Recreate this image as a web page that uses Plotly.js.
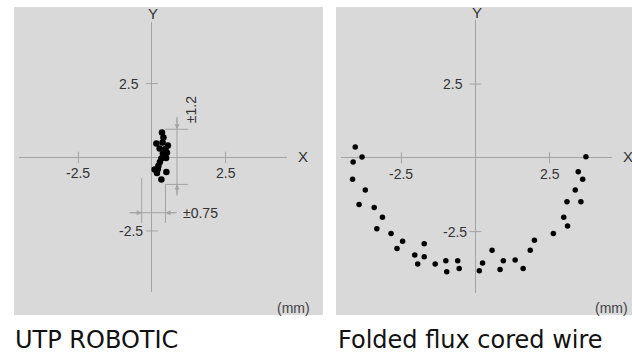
<!DOCTYPE html>
<html>
<head>
<meta charset="utf-8">
<script src="https://cdn.plot.ly/plotly-3.0.1.min.js"></script>
<style>
  html, body { margin: 0; padding: 0; background: #ffffff; }
  #chart { width: 632px; height: 356px; }
</style>
</head>
<body>
<div id="chart"></div>
<script>
// ---- data (mm) ----
const panelTitles = ['UTP ROBOTIC', 'Folded flux cored wire'];
const tickVals = [-2.5, 2.5];
const tickLabels = ['-2.5', '2.5'];
const axisNames = ['X', 'Y'];
const unitLabel = '(mm)';

const utpX = [0.34, 0.39, 0.15, 0.36, 0.54, 0.26, 0.46, 0.37, 0.51, 0.43, 0.32, 0.48, 0.27, 0.22, 0.09, 0.17, 0.49, 0.32, 0.20];
const utpY = [0.84, 0.67, 0.47, 0.50, 0.40, 0.30, 0.28, 0.13, 0.15, 0.03, -0.04, -0.02, -0.16, -0.29, -0.41, -0.53, -0.50, -0.75, -0.40];

const foldX = [-4.06, -3.83, -4.13, -4.55, -4.15, -3.72, -3.93, -3.42, -3.14, -3.33, -2.85, -2.46, -2.65, -1.73, -2.05, -1.73, -1.95, -1.36, -1.00, -0.60, -0.97, -0.55, 0.13, 0.24, 0.56, 0.94, 0.83, 1.34, 1.61, 1.85, 1.99, 2.63, 3.11, 2.98, 3.09, 3.56, 3.37, 3.62, 3.47, 3.73];
const foldY = [0.37, 0.03, -0.14, -0.55, -0.73, -1.09, -1.58, -1.68, -2.01, -2.40, -2.56, -2.83, -3.07, -2.91, -3.29, -3.35, -3.60, -3.60, -3.49, -3.49, -3.86, -3.75, -3.83, -3.56, -3.13, -3.49, -3.78, -3.46, -3.75, -3.13, -2.79, -2.56, -2.31, -2.01, -1.49, -1.49, -1.09, -0.73, -0.47, 0.04];

// tolerance annotation (UTP): vertical ±1.2 band and horizontal ±0.75 band
const tolYTop = 0.95, tolYBot = -0.92;
const tolXLeft = -0.35, tolXRight = 0.46;
const tolLabels = ['±1.2', '±0.75'];

// ---- style ----
const BG = '#d9d9d9';
const AX = '#a3a3a3';
const TXT = '#333333';
const FONT = 'Liberation Sans, Arial, sans-serif';

const traces = [
  {x: utpX, y: utpY, xaxis: 'x', yaxis: 'y', type: 'scatter', mode: 'markers',
   marker: {color: '#000000', size: 6.5}, cliponaxis: false, hoverinfo: 'skip'},
  {x: foldX, y: foldY, xaxis: 'x2', yaxis: 'y2', type: 'scatter', mode: 'markers',
   marker: {color: '#000000', size: 5.5}, cliponaxis: false, hoverinfo: 'skip'}
];

function axis(domain, range, anchor) {
  return {domain: domain, range: range, anchor: anchor, showgrid: false, showticklabels: false,
          ticks: '', showline: false, zeroline: true, zerolinecolor: AX, zerolinewidth: 1, fixedrange: true};
}

const shapes = [
  {type: 'rect', xref: 'paper', yref: 'paper', x0: 0.02215, x1: 0.51108, y0: 0.11517, y1: 0.98034,
   fillcolor: BG, line: {width: 0}, layer: 'below'},
  {type: 'rect', xref: 'paper', yref: 'paper', x0: 0.53165, x1: 1.0, y0: 0.11517, y1: 0.98034,
   fillcolor: BG, line: {width: 0}, layer: 'below'}
];
const annotations = [];

function line(xr, yr, x0, y0, x1, y1) {
  shapes.push({type: 'line', xref: xr, yref: yr, x0: x0, y0: y0, x1: x1, y1: y1,
               line: {color: AX, width: 1}, layer: 'above'});
}
function txt(xr, yr, x, y, text, opts) {
  annotations.push(Object.assign({xref: xr, yref: yr, x: x, y: y, text: text, showarrow: false,
    font: {family: FONT, size: 14, color: TXT}}, opts || {}));
}

// axis-name label positions in paper coords: [X label x, X label y, Y label x, Y label y]
const axisNamePos = [[0.4794, 0.559, 0.2421, 0.9607], [0.9937, 0.559, 0.7543, 0.9635]];

[['x', 'y'], ['x2', 'y2']].forEach(function (p, i) {
  const xr = p[0], yr = p[1];
  tickVals.forEach(function (v, k) {
    line(xr, yr, v, -0.19, v, 0.19);   // x ticks crossing the axis
    line(xr, yr, -0.2, v, 0.2, v);     // y ticks crossing the axis
    txt(xr, yr, v, 0, tickLabels[k], {yshift: -16, xanchor: 'center', yanchor: 'middle'});
    txt(xr, yr, -1.18, v, tickLabels[k], {xanchor: 'left', yanchor: 'middle'});
  });
  const ap = axisNamePos[i];
  txt('paper', 'paper', ap[0], ap[1], axisNames[0], {xanchor: 'center', yanchor: 'middle', font: {family: FONT, size: 15, color: TXT}});
  txt('paper', 'paper', ap[2], ap[3], axisNames[1], {xanchor: 'center', yanchor: 'middle', font: {family: FONT, size: 15, color: TXT}});
});

// unit labels
txt('paper', 'paper', 0.4935, 0.1348, unitLabel, {xanchor: 'right', yanchor: 'middle', font: {family: FONT, size: 14, color: '#444444'}});
txt('paper', 'paper', 0.9962, 0.1357, unitLabel, {xanchor: 'right', yanchor: 'middle', font: {family: FONT, size: 14, color: '#444444'}});

// panel titles
const TITLEFONT = {family: 'DejaVu Sans, sans-serif', size: 24, color: '#111111'};
txt('paper', 'paper', 0.0205, 0.0449, panelTitles[0], {xanchor: 'left', yanchor: 'middle', font: TITLEFONT});
txt('paper', 'paper', 0.5315, 0.0449, panelTitles[1], {xanchor: 'left', yanchor: 'middle', font: TITLEFONT});

// tolerance dimension lines (UTP panel)
line('x', 'y', 0.44, tolYTop, 1.23, tolYTop);
line('x', 'y', 0.44, tolYBot, 1.23, tolYBot);
line('x', 'y', 0.85, 1.37, 0.85, -1.31);
line('x', 'y', tolXLeft, -0.70, tolXLeft, -2.23);
line('x', 'y', tolXRight, tolYBot, tolXRight, -2.23);
line('x', 'y', -0.77, -1.88, 0.84, -1.88);

function arrow(x, y, ax, ay) {
  annotations.push({xref: 'x', yref: 'y', axref: 'x', ayref: 'y', x: x, y: y, ax: ax, ay: ay,
    text: '', showarrow: true, arrowhead: 2, arrowsize: 1, arrowwidth: 1, arrowcolor: AX, standoff: 0});
}
arrow(0.85, tolYTop, 0.85, 1.37);
arrow(0.85, tolYBot, 0.85, -1.31);
arrow(tolXLeft, -1.88, -0.77, -1.88);
arrow(tolXRight, -1.88, 0.84, -1.88);

txt('x', 'y', 1.33, 1.60, tolLabels[0], {textangle: -90, xanchor: 'center', yanchor: 'middle'});
txt('x', 'y', 1.0, -1.88, tolLabels[1], {xanchor: 'left', yanchor: 'middle'});

const layout = {
  width: 632, height: 356,
  margin: {l: 0, r: 0, t: 0, b: 0},
  paper_bgcolor: '#ffffff', plot_bgcolor: 'rgba(0,0,0,0)',
  showlegend: false,
  xaxis: axis([0.03006, 0.45411], [-4.52, 4.59], 'y'),
  yaxis: axis([0.17978, 0.93820], [-4.57, 4.59], 'x'),
  xaxis2: axis([0.53956, 0.96835], [-4.54, 4.61], 'y2'),
  yaxis2: axis([0.17781, 0.94382], [-4.57, 4.67], 'x2'),
  shapes: shapes,
  annotations: annotations
};

Plotly.newPlot('chart', traces, layout, {displayModeBar: false, staticPlot: true});
</script>
</body>
</html>
